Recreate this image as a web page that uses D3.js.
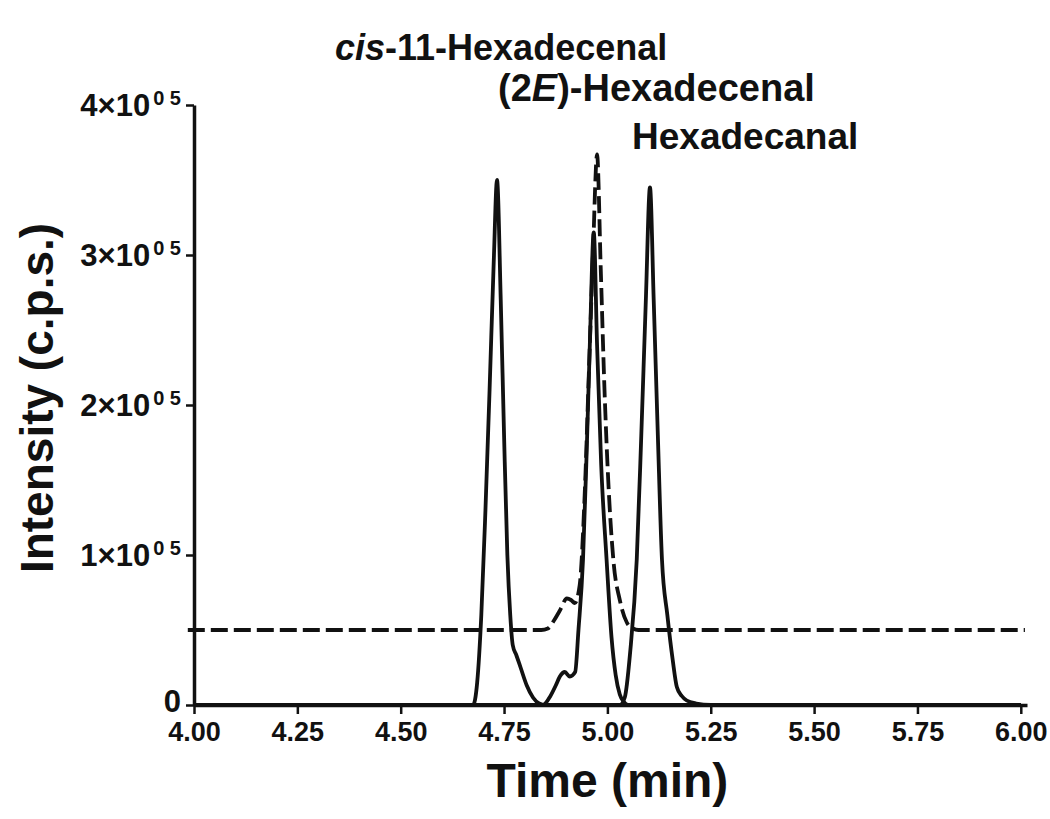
<!DOCTYPE html>
<html lang="en">
<head>
<meta charset="UTF-8">
<title>Chromatogram</title>
<style>
  body { margin: 0; background: #fff; }
  text { font-family: "Liberation Sans", Arial, sans-serif; font-weight: bold; fill: #111; }
</style>
</head>
<body>
<div id="chart"></div>
<script src="https://cdn.jsdelivr.net/npm/d3@7"></script>
<script>
  // traces, time in min, intensity in units of 1e5 c.p.s.
  var cisPeak = [[4.00,0],[4.675,0],[4.685,0.15],[4.695,0.6],[4.705,1.3],[4.715,2.1],[4.725,2.95],[4.733,3.50],
    [4.742,2.7],[4.750,1.8],[4.758,1.0],[4.765,0.6],[4.771,0.4],[4.780,0.33],[4.790,0.25],[4.805,0.13],
    [4.820,0.05],[4.835,0.01],[4.850,0],[6.00,0]];
  var transPeak = [[4.00,0],[4.844,0],[4.860,0.05],[4.875,0.13],[4.885,0.19],[4.897,0.22],[4.909,0.19],[4.922,0.22],
    [4.930,0.5],[4.941,0.97],[4.950,1.7],[4.958,2.45],[4.967,3.15],[4.975,2.4],[4.985,1.6],[4.998,0.97],
    [5.010,0.45],[5.020,0.2],[5.030,0.07],[5.040,0.02],[5.050,0],[6.00,0]];
  var hexanalPeak = [[4.00,0],[5.030,0],[5.042,0.05],[5.055,0.35],[5.071,0.97],[5.082,1.8],[5.093,2.7],[5.103,3.45],
    [5.112,2.7],[5.122,1.8],[5.132,0.97],[5.145,0.6],[5.158,0.3],[5.168,0.12],[5.180,0.06],[5.192,0.03],
    [5.215,0.01],[5.25,0],[6.00,0]];
  var dashedTrace = [[3.985,0.5],[4.84,0.5],[4.856,0.51],[4.870,0.56],[4.885,0.63],[4.902,0.71],[4.912,0.70],
    [4.921,0.68],[4.933,0.8],[4.945,1.4],[4.955,2.2],[4.965,3.0],[4.975,3.67],[4.984,2.9],[4.993,2.1],
    [5.002,1.5],[5.015,0.95],[5.030,0.7],[5.047,0.55],[5.062,0.51],[5.075,0.5],[6.01,0.5]];

  var xTicks = [4.00,4.25,4.50,4.75,5.00,5.25,5.50,5.75,6.00];
  var yTicks = [0,1,2,3,4];
  var peakLabels = ["cis-11-Hexadecenal","(2E)-Hexadecenal","Hexadecanal"];

  var width = 1050, height = 819;
  var margin = {top: 105, right: 23, bottom: 114, left: 194};

  var svg = d3.select("#chart").append("svg")
    .attr("width", width)
    .attr("height", height);

  var x = d3.scaleLinear()
    .domain([4, 6.015])
    .range([margin.left, width - margin.right]);
  var y = d3.scaleLinear()
    .domain([0, 4])
    .range([height - margin.bottom, margin.top]);

  // x axis
  var xAxis = svg.append("g")
    .attr("transform", "translate(0," + y(0) + ")")
    .call(d3.axisBottom(x).tickValues(xTicks).tickFormat(d3.format(".2f")).tickSize(9).tickSizeOuter(0).tickPadding(8));
  xAxis.select(".domain").attr("stroke-width", 3.5).attr("stroke", "#111");
  xAxis.selectAll(".tick line").attr("stroke-width", 2.5).attr("stroke", "#111");
  xAxis.selectAll("text")
    .style("font-family", "'Liberation Sans Narrow', 'Liberation Sans', Arial, sans-serif")
    .style("font-weight", "bold")
    .attr("font-size", 27)
    .attr("fill", "#111");

  // y axis
  var yAxis = svg.append("g")
    .attr("transform", "translate(" + x(4) + ",0)")
    .call(d3.axisLeft(y).tickValues(yTicks).tickSize(8).tickSizeOuter(0).tickPadding(5));
  yAxis.select(".domain").attr("stroke-width", 3.5).attr("stroke", "#111");
  yAxis.selectAll(".tick line").attr("stroke-width", 2.5).attr("stroke", "#111");
  yAxis.selectAll(".tick text")
    .attr("font-size", 31)
    .attr("fill", "#111")
    .attr("dy", "0.34em")
    .each(function(d) {
      var t = d3.select(this).text(null);
      if (d === 0) { t.attr("dy", "0.2em").text("0"); return; }
      t.append("tspan").text(d + "\u00d710");
      t.append("tspan").attr("font-size", 20).attr("dx", 3).attr("dy", "-0.55em").text("0 5");
    });

  // axis titles
  svg.append("text")
    .attr("x", (x(4) + x(6)) / 2)
    .attr("y", 797)
    .attr("text-anchor", "middle")
    .attr("font-size", 48)
    .text("Time (min)");
  svg.append("text")
    .attr("transform", "translate(53,398) rotate(-90)")
    .attr("text-anchor", "middle")
    .attr("font-size", 46)
    .text("Intensity (c.p.s.)");

  // traces
  var line = d3.line()
    .x(function(d) { return x(d[0]); })
    .y(function(d) { return y(d[1]); })
    .curve(d3.curveMonotoneX);

  [cisPeak, transPeak, hexanalPeak].forEach(function(tr) {
    svg.append("path")
      .datum(tr)
      .attr("fill", "none")
      .attr("stroke", "#111")
      .attr("stroke-width", 3.8)
      .attr("stroke-linejoin", "round")
      .attr("d", line);
  });
  svg.append("path")
    .datum(dashedTrace)
    .attr("fill", "none")
    .attr("stroke", "#111")
    .attr("stroke-width", 3.8)
    .attr("stroke-dasharray", "17,6")
    .attr("d", line);

  // peak labels
  var l1 = svg.append("text").attr("x", 335).attr("y", 60).attr("font-size", 36);
  l1.append("tspan").attr("font-style", "italic").text("cis");
  l1.append("tspan").text(peakLabels[0].slice(3));
  var l2 = svg.append("text").attr("x", 498).attr("y", 101).attr("font-size", 38);
  l2.append("tspan").text("(2");
  l2.append("tspan").attr("font-style", "italic").text("E");
  l2.append("tspan").text(peakLabels[1].slice(3));
  svg.append("text").attr("x", 632).attr("y", 149).attr("font-size", 37).text(peakLabels[2]);
</script>
</body>
</html>
